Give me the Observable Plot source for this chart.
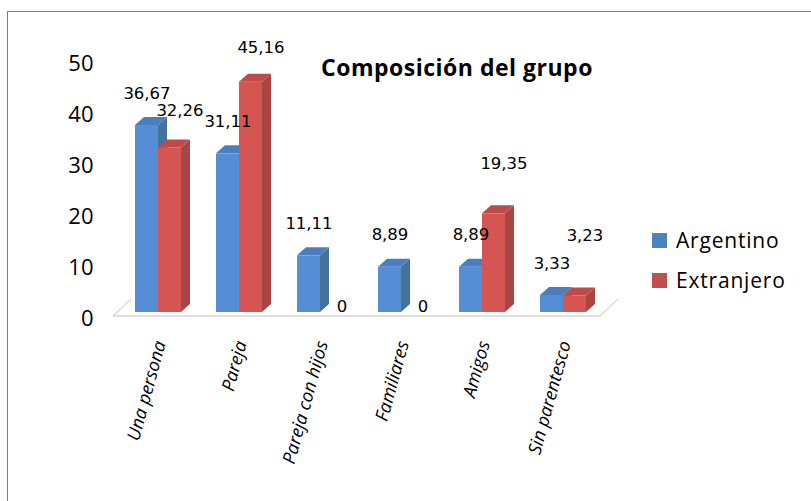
<!DOCTYPE html>
<html>
<head>
<meta charset="utf-8">
<script src="https://cdn.jsdelivr.net/npm/d3@7"></script>
<script src="https://cdn.jsdelivr.net/npm/@observablehq/plot@0.6"></script>
<style>
  html, body { margin: 0; padding: 0; background: #fff; }
  #wrap { position: relative; width: 811px; height: 501px; overflow: hidden; font-family: "Open Sans", sans-serif; }
  #border { position: absolute; left: 7px; top: 11px; width: 900px; height: 600px; border-left: 1px solid #808080; border-top: 1px solid #808080; box-sizing: border-box; }
  #title { position: absolute; left: 321px; top: 53px; font-size: 23px; font-weight: bold; line-height: 28px; color: #000; white-space: nowrap; letter-spacing: 0.5px; }
  .leg { position: absolute; left: 652px; font-size: 21px; line-height: 26px; color: #000; white-space: nowrap; }
  .leg span.sw { position: absolute; left: 0; top: 6px; width: 15px; height: 15px; }
  .leg span.tx { position: absolute; left: 24px; top: 0; letter-spacing: 0.8px; }
  #chart { position: absolute; left: 0; top: 0; }
</style>
</head>
<body>
<div id="wrap">
  <div id="border"></div>
  <div id="chart"></div>
  <div id="title">Composición del grupo</div>
  <div class="leg" style="top:227px"><span class="sw" style="background:#4F81BD"></span><span class="tx">Argentino</span></div>
  <div class="leg" style="top:267px"><span class="sw" style="background:#C0504D"></span><span class="tx">Extranjero</span></div>
</div>
<script>
// ---- data ----
const categories = ["Una persona", "Pareja", "Pareja con hijos", "Familiares", "Amigos", "Sin parentesco"];
const argentino = [36.67, 31.11, 11.11, 8.89, 8.89, 3.33];
const extranjero = [32.26, 45.16, 0, 0, 19.35, 3.23];
const yTicks = [0, 10, 20, 30, 40, 50];
// label nudges (px) for the Extranjero value labels, as placed in the original
const extLabelDy = [-37, -34, -6, -6, -50, -60];

const argRows = categories.map((c, i) => ({cat: c, value: argentino[i], i}));
const extRows = categories.map((c, i) => ({cat: c, value: extranjero[i], i}));
const fmt = v => String(v).replace(".", ",");

const colors = {
  arg: {front: "#558ED5", side: "#44729F", top: "#4A7EBF"},
  ext: {front: "#D55552", side: "#A94543", top: "#BE4B48"}
};
const DX = 9, DY = 8;

function bw(scales) {
  const s = scales.x;
  if (s && typeof s.bandwidth === "function") return s.bandwidth();
  return scales.scales.x.bandwidth;
}

// depth faces (side + top) of a series, positioned through the plot's scales
function depthFaces(rows, half, col) {
  return (index, scales) => {
    const g = d3.create("svg:g");
    const w = bw(scales) / 2;
    const y0 = scales.y(0);
    for (const r of rows) {
      if (!(r.value > 0)) continue;
      const xl = scales.x(r.cat) + half * w;
      const xr = xl + w;
      const yt = scales.y(r.value);
      g.append("polygon")
        .attr("points", [[xr, yt], [xr + DX, yt - DY], [xr + DX, y0 - DY], [xr, y0]].join(" "))
        .attr("fill", col.side);
      g.append("polygon")
        .attr("points", [[xl, yt], [xl + DX, yt - DY], [xr + DX, yt - DY], [xr, yt]].join(" "))
        .attr("fill", col.top);
    }
    return g.node();
  };
}

// floor outline
function floor(index, scales) {
  const [a, b] = scales.x.range();
  const yb = scales.y(0) + 4;
  const g = d3.create("svg:g").attr("fill", "none").attr("stroke", "#BFBFBF").attr("stroke-width", 1);
  g.append("polyline").attr("points", [[a + 13, yb - 17], [a - 5, yb], [b - 4, yb], [b + 14, yb - 17]].join(" "));
  return g.node();
}

const valueFont = {fontSize: 16.5, fontFamily: "DejaVu Sans", fill: "#000", letterSpacing: "1.3px"};

const chart = Plot.plot({
  width: 811,
  height: 501,
  marginLeft: 0, marginRight: 0, marginTop: 0, marginBottom: 0,
  style: {background: "transparent", overflow: "visible"},
  x: {type: "band", domain: categories, range: [118, 604], paddingInner: 0.432, paddingOuter: 0.216, axis: null},
  y: {domain: [0, 50], range: [312, 57], axis: null},
  marks: [
    floor,
    depthFaces(argRows, 0, colors.arg),
    Plot.barY(argRows, {x: "cat", y: "value", fill: colors.arg.front, insetRight: 23}),
    depthFaces(extRows, 1, colors.ext),
    Plot.barY(extRows.filter(d => d.value > 0), {x: "cat", y: "value", fill: colors.ext.front, insetLeft: 23}),
    // y tick labels
    Plot.text(yTicks, {y: d => d, frameAnchor: "left", dx: 93, dy: 6, textAnchor: "end", text: d => String(d),
      fontSize: 22, fontFamily: "Open Sans", fill: "#000"}),
    // category labels
    Plot.text(categories, {x: d => d, y: () => 0, dx: 2, dy: 29, rotate: -74.5, textAnchor: "end", text: d => d,
      fontSize: 18, fontStyle: "italic", fontFamily: "Open Sans", fill: "#000", letterSpacing: "1.5px"}),
    // value labels
    Plot.text(argRows, {x: "cat", y: "value", text: d => fmt(d.value), dx: -11.5, dy: -32, ...valueFont}),
    ...extRows.map(r => Plot.text([r], {x: "cat", y: "value", text: d => fmt(d.value), dx: 21.5, dy: extLabelDy[r.i], ...valueFont}))
  ]
});
document.getElementById("chart").appendChild(chart);
</script>
</body>
</html>
